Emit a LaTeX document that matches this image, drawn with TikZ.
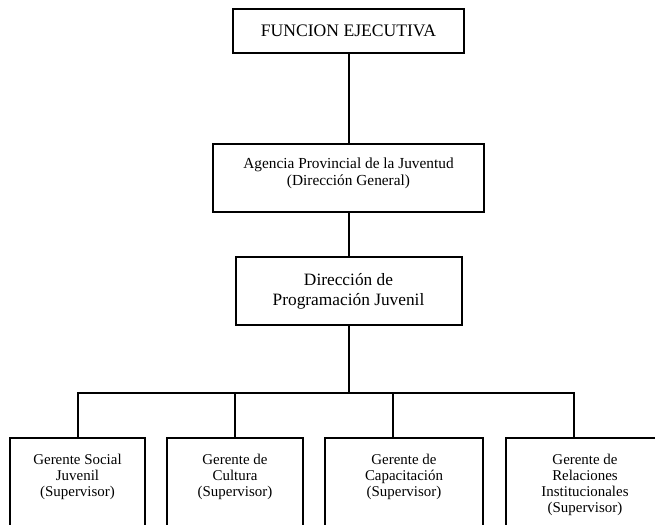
\documentclass[tikz,border=0pt]{standalone}
\usepackage{fontspec}
\setmainfont{Liberation Serif}
\newcommand{\cajatexto}[4]{\parbox[t][#2][t]{#1}{\centering\rule{0pt}{#3}#4}}
\tikzset{
  caja/.style={draw, inner sep=0pt},
  gerente/.style={caja, anchor=north, font=\fontsize{11.2}{12}\selectfont}
}
\begin{document}
\begin{tikzpicture}[x=0.75pt, y=-0.75pt, line width=1.5pt]
  \useasboundingbox (0,0) rectangle (655,524);
  \clip (0,0) rectangle (655,524);
  \node[caja, minimum width=173.25pt, minimum height=33pt,
        font=\fontsize{13.2}{15}\selectfont] (funcion) at (348.5,31) {FUNCION EJECUTIVA};
  \node[caja, font=\fontsize{11.5}{12.75}\selectfont] (agencia) at (348.5,178)
    {\cajatexto{203.25pt}{51pt}{18pt}{Agencia Provincial de la Juventud\\(Dirección General)}};
  \node[caja, minimum width=169.5pt, minimum height=51pt, align=center,
        font=\fontsize{13}{15}\selectfont] (direccion) at (348.5,291) {Dirección de\\Programación Juvenil};
  \node[gerente] (g1) at (77.5,437) {\cajatexto{101.25pt}{82.5pt}{19.5pt}{Gerente Social\\Juvenil\\(Supervisor)}};
  \node[gerente] (g2) at (235,437) {\cajatexto{102pt}{82.5pt}{19.5pt}{Gerente de\\Cultura\\(Supervisor)}};
  \node[gerente] (g3) at (404,437) {\cajatexto{118.5pt}{82.5pt}{19.5pt}{Gerente de\\Capacitación\\(Supervisor)}};
  \node[gerente] (g4) at (585,437) {\cajatexto{118.5pt}{82.5pt}{19.5pt}{Gerente de\\Relaciones\\Institucionales\\(Supervisor)}};
  \coordinate (bus) at (348.5,393);
  \coordinate (c3) at (393,437);
  \coordinate (c4) at (574,437);
  % lineas
  \draw (funcion) -- (agencia);
  \draw (agencia) -- (direccion);
  \draw (direccion) -- (bus);
  \draw (g1.north) |- (bus) -| (c4);
  \draw (g2.north) -- (g2.north |- bus);
  \draw (c3) -- (c3 |- bus);
\end{tikzpicture}
\end{document}
